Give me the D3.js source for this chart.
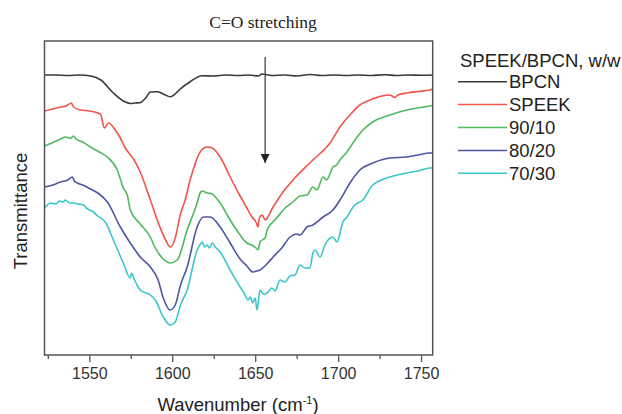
<!DOCTYPE html>
<html>
<head>
<meta charset="utf-8">
<script src="https://cdn.jsdelivr.net/npm/d3@7"></script>
<style>
  body { margin: 0; background: #fff; }
  svg { display: block; font-family: "Liberation Sans", Arial, sans-serif; }
</style>
</head>
<body>
<svg width="622" height="414"></svg>
<script>
// wavenumber (cm-1), transmittance (arbitrary units, curves offset)
var bpcn = [[1523,280],[1530,280],[1537,279.5],[1544,280],[1551,279],[1557,275],[1564.5,262],[1571.7,253],
  [1575,251.5],[1577.7,252],[1580.7,252.3],[1584,257],[1586.8,263],[1591,263.3],[1594.6,261],[1598.8,258.3],
  [1601,260],[1604.8,266],[1610.8,273.3],[1618,279.3],[1625,279],[1632,280],[1640,279.5],[1646,280],[1652,279],
  [1654,281],[1660,279.5],[1668,280],[1675,279],[1683,280.5],[1690,279.5],[1698,280],[1705,279.5],[1712,280],
  [1720,279.5],[1728,280.3],[1735,279.5],[1742,280],[1750,279.8],[1757,280]];

var speek = [[1523,244],[1528,246],[1532.6,248],[1536,249],[1539.2,252],[1540.5,248],[1544.6,245],[1550,244],
  [1556.7,241],[1559.1,227],[1561.5,232],[1565.7,225],[1568.7,217],[1571.7,207],[1577,195],[1580.7,183],
  [1586.8,155],[1592.8,127],[1596,115],[1598.8,108],[1601.8,117],[1604.8,140],[1607.8,155],[1610.8,175],
  [1612.6,185],[1616.8,203],[1621.1,208],[1624.1,207],[1628.9,198],[1634.9,178],[1640.9,159],[1645,147],
  [1648.1,138],[1650.5,133],[1651.7,128],[1652.5,137],[1654.2,140],[1656,135],[1660.8,148],[1666.8,163],
  [1672.8,175],[1684.8,195],[1695.1,212],[1701.1,228],[1707.1,240],[1713.1,250],[1719.1,255],[1731.2,260],
  [1734.2,257.5],[1736,260],[1741.4,262],[1748,263.5],[1755.2,265],[1757,266]];

var w9010 = [[1523,209],[1530,214],[1532.6,216],[1535.6,218],[1538.6,216.5],[1540.4,219],[1542,216],[1546,213],
  [1550.7,208],[1556,203],[1560.9,198],[1566.9,185],[1570.5,167],[1572.9,160],[1574.7,145],[1580.7,131],
  [1586.8,118],[1589.8,107],[1594,97],[1597,93],[1598.8,92],[1603,95],[1609,125],[1615,152],[1616.8,162],
  [1618.1,164],[1621.1,162],[1624.1,161],[1626,158],[1628.9,152],[1634.9,135],[1640.9,120],[1645,112],
  [1648,110],[1650.5,107],[1651.7,105],[1652.9,113],[1654.2,115],[1656,117],[1657.2,125],[1663,137],
  [1668,147],[1672.8,153],[1677,159],[1681.2,160],[1684.8,168],[1687.2,165],[1690.9,178],[1693,175],
  [1696.9,188],[1699,190],[1701.1,195],[1705.3,203],[1708.9,212],[1714.9,225],[1720.9,233],[1731.2,240],
  [1741.4,245],[1748,247],[1755.2,249],[1757,249.5]];

var w8020 = [[1523,168],[1528,170],[1532.6,173],[1537,175],[1539.8,178],[1541,174],[1542.8,172],[1546,170],
  [1550.7,166],[1556,161],[1560.9,153],[1568.7,128],[1574.7,112],[1580.7,98],[1586.8,88],[1591.5,75],
  [1594.6,57],[1598.8,45],[1601.8,50],[1605,70],[1609,88],[1615,128],[1618.7,138],[1622.9,138],[1628.9,128],
  [1634.9,112],[1640.9,96],[1645,89],[1648.7,83],[1651,84],[1652.9,85],[1657,91],[1660.8,98],[1666,107],
  [1671,118],[1675,121],[1677,120],[1681.2,128],[1684.8,130],[1690.9,138],[1696.9,145],[1701.1,155],
  [1707.1,172],[1713.1,185],[1720.9,192],[1731.2,197],[1741.4,198],[1748,200],[1755.2,202],[1757,202]];

var w7030 = [[1523,147],[1526.6,152],[1530,151],[1532,154],[1534.4,153],[1535.5,155],[1538,152],[1540.4,152],
  [1543,151],[1546.4,150],[1549,146],[1552.5,143],[1555,139],[1558.5,135],[1560,132],[1564.5,115],[1570.5,92],
  [1574.7,77],[1575.5,82],[1576.5,78],[1580.7,65],[1586.8,60],[1589.8,55],[1594.6,38],[1598.8,30],[1601.8,33],
  [1605,50],[1609,65],[1615,105],[1617,111],[1618.1,113],[1619.5,108],[1621.1,110],[1622.5,107],[1624.1,112],
  [1626,108],[1628.9,103],[1634.9,85],[1640.9,68],[1643,63],[1645.7,55],[1647,58],[1648.5,52],[1650,57],
  [1651.1,45],[1652.9,65],[1655,61],[1657.2,62],[1660,67],[1662,64],[1665,75],[1668,73],[1671,79],[1674,80],
  [1677,90],[1680,87],[1683,87],[1684.8,102],[1686,105],[1689.1,98],[1692,110],[1696.9,118],[1699.3,113],
  [1702.9,133],[1705.3,138],[1710,150],[1714.9,155],[1720.9,170],[1731.2,178],[1741.4,182],[1748,184],
  [1755.2,187],[1757,187]];

var seriesNames = ["BPCN", "SPEEK", "90/10", "80/20", "70/30"];
var seriesValues = [bpcn, speek, w9010, w8020, w7030];
var seriesColors = ["#3a3a3a", "#f2544c", "#4dba5c", "#4e55a5", "#3cc6cc"];

var majorTicks = [1550, 1600, 1650, 1700, 1750];
var minorTicks = [1525, 1575, 1625, 1675, 1725];

// C=O stretching arrow (wavenumber, from -> to)
var arrowX = 1656, arrowFrom = 298, arrowTo = 192;

var svg = d3.select("svg");

var x = d3.scaleLinear().domain([1523, 1757]).range([44.5, 432.7]);
var y = d3.scaleLinear().domain([0, 314]).range([355, 41]);

var line = d3.line()
    .curve(d3.curveMonotoneX)
    .x(function(d) { return x(d[0]); })
    .y(function(d) { return y(d[1]); });

svg.append("defs").append("marker")
    .attr("id", "head")
    .attr("viewBox", "0 0 10 10")
    .attr("refX", 10).attr("refY", 5)
    .attr("markerWidth", 9).attr("markerHeight", 9)
    .attr("markerUnits", "userSpaceOnUse")
    .attr("orient", "auto")
    .append("path")
    .attr("d", "M0,0L10,5L0,10z")
    .attr("fill", "#222");

// curves
svg.append("g").selectAll("path")
    .data(seriesValues)
    .enter().append("path")
    .attr("d", line)
    .attr("fill", "none")
    .attr("stroke", function(d, i) { return seriesColors[i]; })
    .attr("stroke-width", 1.6)
    .attr("stroke-linejoin", "round");

// arrow
svg.append("line")
    .attr("x1", x(arrowX)).attr("x2", x(arrowX))
    .attr("y1", y(arrowFrom)).attr("y2", y(arrowTo))
    .attr("stroke", "#444")
    .attr("stroke-width", 1.3)
    .attr("marker-end", "url(#head)");

svg.append("text")
    .attr("x", 263).attr("y", 28)
    .attr("text-anchor", "middle")
    .attr("font-family", "'Liberation Serif', 'Times New Roman', serif")
    .attr("font-size", 17.5)
    .attr("fill", "#222")
    .text("C=O stretching");

// frame
svg.append("rect")
    .attr("x", 44.5).attr("y", 41)
    .attr("width", 432.7 - 44.5).attr("height", 355 - 41)
    .attr("fill", "none")
    .attr("stroke", "#555")
    .attr("stroke-width", 1.5);

var xAxis = svg.append("g")
    .attr("transform", "translate(0,355)")
    .call(d3.axisBottom(x).tickValues(majorTicks).tickSize(7).tickPadding(6).tickFormat(d3.format("d")));
xAxis.select(".domain").remove();
xAxis.selectAll("line").attr("stroke", "#555").attr("stroke-width", 1.3);
xAxis.selectAll("text").attr("font-size", 16).attr("fill", "#333").attr("font-family", "'Liberation Sans', Arial, sans-serif");

var xMinor = svg.append("g")
    .attr("transform", "translate(0,355)")
    .call(d3.axisBottom(x).tickValues(minorTicks).tickSize(4).tickFormat(""));
xMinor.select(".domain").remove();
xMinor.selectAll("line").attr("stroke", "#555").attr("stroke-width", 1.3);

// axis titles
var xt = svg.append("text")
    .attr("x", 238).attr("y", 411)
    .attr("text-anchor", "middle")
    .attr("font-size", 18.5)
    .attr("fill", "#222");
xt.append("tspan").text("Wavenumber (cm");
xt.append("tspan").attr("dy", -7).attr("font-size", 11).text("-1");
xt.append("tspan").attr("dy", 7).text(")");

svg.append("text")
    .attr("transform", "translate(27,211) rotate(-90)")
    .attr("text-anchor", "middle")
    .attr("font-size", 18.5)
    .attr("fill", "#222")
    .text("Transmittance");

// legend
var legend = svg.append("g");
legend.append("text")
    .attr("x", 460).attr("y", 67)
    .attr("font-size", 18.5)
    .attr("fill", "#222")
    .text("SPEEK/BPCN, w/w");

var item = legend.selectAll("g.item")
    .data(seriesNames)
    .enter().append("g")
    .attr("class", "item")
    .attr("transform", function(d, i) { return "translate(0," + (81.7 + i * 22.9) + ")"; });
item.append("line")
    .attr("x1", 458).attr("x2", 507)
    .attr("stroke", function(d, i) { return seriesColors[i]; })
    .attr("stroke-width", 1.5);
item.append("text")
    .attr("x", 509).attr("y", 6.5)
    .attr("font-size", 18.5)
    .attr("fill", "#222")
    .text(function(d) { return d; });
</script>
</body>
</html>
